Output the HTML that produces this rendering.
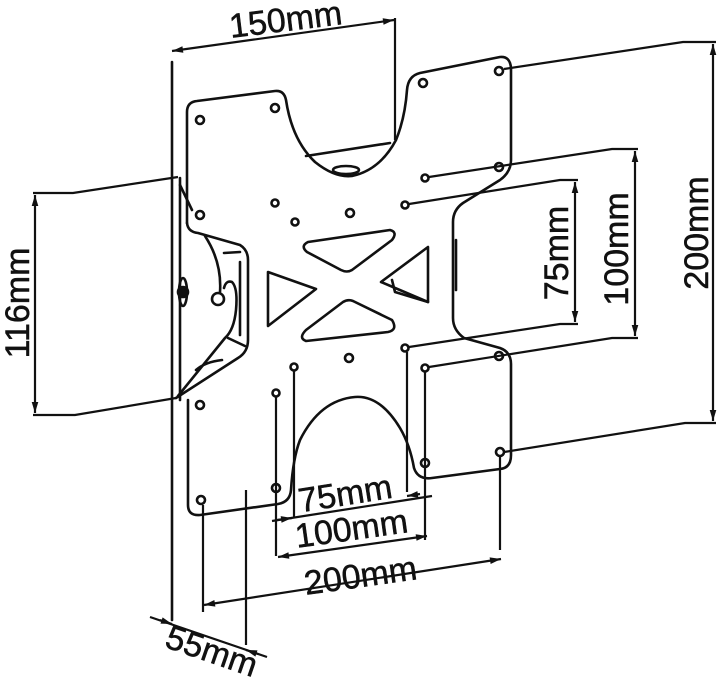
<!DOCTYPE html>
<html><head><meta charset="utf-8"><style>
html,body{margin:0;padding:0;background:#fff;}
svg{display:block}
text{font-family:"Liberation Sans",sans-serif;font-size:34px;fill:#111;stroke:#111;stroke-width:0.5;}
</style></head><body>
<svg width="720" height="683" viewBox="0 0 720 683" xmlns="http://www.w3.org/2000/svg">
<defs>
<marker id="a" viewBox="0 0 10 10" refX="10" refY="5" markerWidth="7" markerHeight="5" orient="auto-start-reverse"><path d="M0,2 L10,5 L0,8 z" fill="#111"/></marker>
</defs>
<g fill="none" stroke="#111" stroke-width="2.6" stroke-linejoin="round" stroke-linecap="round">
<line x1="172" y1="62" x2="172" y2="620"/>
<path d="M187,223 L187,112 Q187,102 197,101 L275,91 Q284,90 286,100 Q292,140 315,162 Q335,178 352,176 Q380,170 396,140 Q405,118 407,90 Q408,76 420,73 L500,57 Q510,56 511,68 L511,160 Q511,172 500,180 L463,203 Q453,210 453,222 L453,318 Q453,330 464,338 L500,348 Q511,352 511,364 L511,455 Q511,468 500,469 L432,478 Q418,480 414,468 Q410,445 400,428 Q380,395 355,397 Q320,400 300,440 Q293,458 291,490 Q290,502 278,504 L200,515 Q188,516 188,505 L188,400"/>
<path d="M187,223 Q188,232 198,233 L240,245 Q248,250 248,260 L248,340 Q248,352 238,358 L176,398"/>
<path d="M205,236 Q222,262 220,292"/>
<path d="M224,288 Q226,280 232,282 Q238,288 236,310 Q234,330 225,338 L178,396"/>
<line x1="240" y1="262" x2="240" y2="335"/>
<line x1="224" y1="253" x2="240" y2="252"/>
<path d="M228,338 L245,346"/>
<path d="M196,370 Q205,362 222,360"/>
<line x1="180" y1="178" x2="180" y2="400"/>
<line x1="180" y1="185" x2="192" y2="210"/>
<ellipse cx="183" cy="292" rx="4" ry="14"/>
<circle cx="183" cy="292" r="5" fill="#111"/>
<circle cx="218" cy="299" r="6"/>
<path d="M306,156 L390,143"/>
<ellipse cx="346" cy="170" rx="13" ry="4"/>
<path d="M308,242 L390,230 Q398,232 392,240 L352,270 Q347,273 341,270 L307,252 Q300,246 308,242 z"/>
<path d="M268,272 L316,289 L268,326 z"/>
<path d="M306,341 L388,332 Q398,330 392,320 L353,301 Q348,299 343,302 L306,330 Q298,338 306,341 z"/>
<path d="M381,282 L428,247 L428,302 z"/>
<path d="M392,280 L395,292 L428,302"/>
<path d="M456,240 L456,290"/>
</g>
<g fill="none" stroke="#111" stroke-width="2.6">
<circle cx="200" cy="120" r="4"/><circle cx="275" cy="108" r="4"/><circle cx="423" cy="83" r="4"/><circle cx="499" cy="71" r="4"/>
<circle cx="200" cy="215" r="4"/><circle cx="275" cy="203" r="3.5"/><circle cx="295" cy="222" r="3.5"/><circle cx="350" cy="213" r="4"/>
<circle cx="425" cy="178" r="3.5"/><circle cx="499" cy="167" r="4"/><circle cx="405" cy="205" r="3.5"/>
<circle cx="349" cy="358" r="4"/><circle cx="405" cy="348" r="3.5"/><circle cx="425" cy="368" r="3.5"/><circle cx="499" cy="356" r="4"/>
<circle cx="294" cy="367" r="3.5"/><circle cx="276" cy="393" r="3.5"/><circle cx="200" cy="405" r="4"/>
<circle cx="276" cy="488" r="4"/><circle cx="425" cy="463" r="4"/><circle cx="500" cy="452" r="4"/><circle cx="201" cy="500" r="4"/>
</g>
<g fill="none" stroke="#111" stroke-width="2.2">
<line x1="395" y1="18" x2="395" y2="140"/>
<line x1="172" y1="51" x2="394" y2="20" marker-start="url(#a)" marker-end="url(#a)"/>
<polyline points="504,69 683,42 716,42"/>
<polyline points="504,452 685,423 716,423"/>
<line x1="713" y1="44" x2="713" y2="421" marker-start="url(#a)" marker-end="url(#a)"/>
<polyline points="429,177 612,149 638,149"/>
<polyline points="429,367 612,338 638,338"/>
<line x1="635" y1="151" x2="635" y2="336" marker-start="url(#a)" marker-end="url(#a)"/>
<polyline points="409,204 560,180 578,180"/>
<polyline points="409,347 560,324 578,324"/>
<line x1="575" y1="182" x2="575" y2="322" marker-start="url(#a)" marker-end="url(#a)"/>
<polyline points="178,177 73,193 33,193"/>
<polyline points="176,398 75,415 33,415"/>
<line x1="35" y1="195" x2="35" y2="413" marker-start="url(#a)" marker-end="url(#a)"/>
<line x1="203" y1="505" x2="203" y2="612"/>
<line x1="246" y1="490" x2="246" y2="645"/>
<line x1="276" y1="397" x2="276" y2="556"/>
<line x1="294" y1="371" x2="294" y2="518"/>
<line x1="407" y1="352" x2="407" y2="492"/>
<line x1="425" y1="372" x2="425" y2="540"/>
<line x1="500" y1="456" x2="500" y2="550"/>
<line x1="272" y1="521" x2="432" y2="496"/>
<line x1="277" y1="520" x2="292" y2="518" marker-end="url(#a)"/>
<line x1="420" y1="494" x2="407" y2="496" marker-end="url(#a)"/>
<line x1="278" y1="557" x2="427" y2="536" marker-start="url(#a)" marker-end="url(#a)"/>
<line x1="204" y1="605" x2="501" y2="559" marker-start="url(#a)" marker-end="url(#a)"/>
<line x1="150" y1="617" x2="267" y2="657"/>
<line x1="160" y1="620" x2="172" y2="624" marker-end="url(#a)"/>
<line x1="258" y1="654" x2="246" y2="650" marker-end="url(#a)"/>
</g>
<text x="287" y="31" text-anchor="middle" transform="rotate(-7 287 31)">150mm</text>
<text x="0" y="0" text-anchor="middle" transform="translate(708 233) rotate(-90)">200mm</text>
<text x="0" y="0" text-anchor="middle" transform="translate(628 249) rotate(-90)">100mm</text>
<text x="0" y="0" text-anchor="middle" transform="translate(568 253) rotate(-90)">75mm</text>
<text x="0" y="0" text-anchor="middle" transform="translate(29 303) rotate(-90)">116mm</text>
<text x="347" y="505" text-anchor="middle" transform="rotate(-9 347 505)">75mm</text>
<text x="353" y="540" text-anchor="middle" transform="rotate(-8 353 540)">100mm</text>
<text x="362" y="587" text-anchor="middle" transform="rotate(-8 362 587)">200mm</text>
<text x="208" y="662" text-anchor="middle" transform="rotate(19 208 662)">55mm</text>
</svg>
</body></html>
